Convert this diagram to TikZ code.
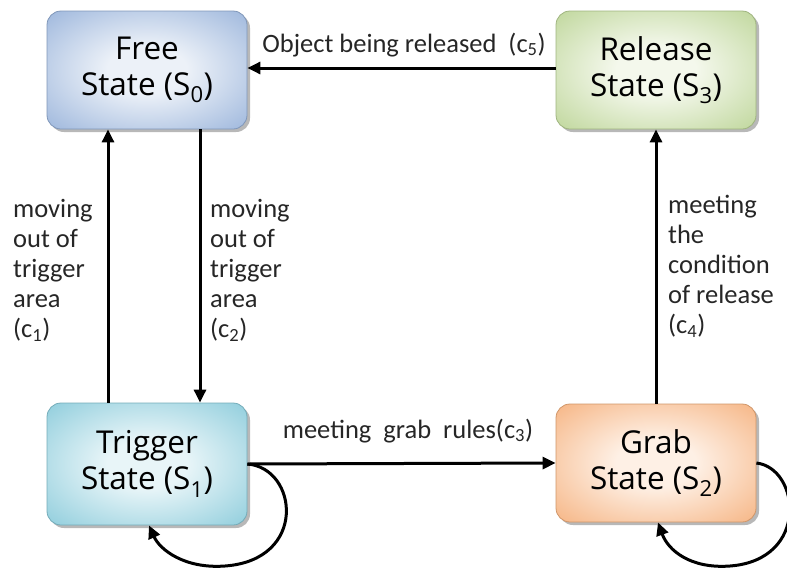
\documentclass[tikz,border=0pt]{standalone}
\usepackage{fontspec}
\setmainfont{Carlito}
\newfontfamily\boxfont{Open Sans}
\usetikzlibrary{arrows.meta,shadows}
\definecolor{freeOut}{HTML}{97B2DA}
\definecolor{freeIn}{HTML}{ECF1F8}
\definecolor{relOut}{HTML}{BBD495}
\definecolor{relIn}{HTML}{F4F8EC}
\definecolor{trigOut}{HTML}{88CADA}
\definecolor{trigIn}{HTML}{E8F5F8}
\definecolor{grabOut}{HTML}{F5B07C}
\definecolor{grabIn}{HTML}{FEF0E5}
\pgfdeclareradialshading{freeshade}{\pgfpoint{0bp}{0bp}}{color(0bp)=(freeIn); color(10bp)=(freeIn); color(38bp)=(freeOut); color(50bp)=(freeOut)}
\pgfdeclareradialshading{relshade}{\pgfpoint{0bp}{0bp}}{color(0bp)=(relIn); color(10bp)=(relIn); color(38bp)=(relOut); color(50bp)=(relOut)}
\pgfdeclareradialshading{trigshade}{\pgfpoint{0bp}{0bp}}{color(0bp)=(trigIn); color(10bp)=(trigIn); color(38bp)=(trigOut); color(50bp)=(trigOut)}
\pgfdeclareradialshading{grabshade}{\pgfpoint{0bp}{0bp}}{color(0bp)=(grabIn); color(10bp)=(grabIn); color(38bp)=(grabOut); color(50bp)=(grabOut)}
\tikzset{
  statebox/.style n args={2}{rounded corners=14pt, minimum width=200pt, minimum height=118pt,
    draw=#1!85!black, line width=0.8pt, shade, shading=#2,
    drop shadow={shadow xshift=3pt, shadow yshift=-3pt, fill=gray!70, opacity=0.8},
    align=center, font=\boxfont\fontsize{31.5}{36}\selectfont},
  arr/.style={line width=3pt, -{Triangle[length=13pt,width=12pt]}},
  lbl/.style={font=\fontsize{26.5}{30}\selectfont, inner sep=0pt, text=black!85},
}
\begin{document}
\begin{tikzpicture}[x=1pt,y=-1pt]
\useasboundingbox (0,0) rectangle (787,568);
\node[statebox={freeOut}{freeshade}] (free) at (147,70) {Free\\State (S\textsubscript{0})};
\node[statebox={relOut}{relshade}] (rel) at (656,70) {Release\\State (S\textsubscript{3})};
\node[statebox={trigOut}{trigshade}, minimum height=122pt] (trig) at (147,464) {Trigger\\State (S\textsubscript{1})};
\node[statebox={grabOut}{grabshade}] (grab) at (656,463) {Grab\\State (S\textsubscript{2})};

\draw[arr] ([yshift=2pt]rel.west) -- ([yshift=2pt]free.east);
\draw[arr] ([xshift=-39pt]trig.north) -- ([xshift=-39pt]free.south);
\draw[arr] ([xshift=53pt]free.south) -- ([xshift=53pt]trig.north);
\draw[arr] (grab.north) -- (rel.south);
\draw[arr] (trig.east) -- (grab.west);

\draw[arr] (trig.east) .. controls (298,468) and (308,560) .. (225,566)
   .. controls (185,569) and (160,550) .. ([xshift=2pt]trig.south);
\draw[arr] (grab.east) .. controls (800,468) and (810,560) .. (730,566)
   .. controls (690,569) and (668,550) .. ([xshift=2pt]grab.south);

\node[lbl, anchor=base] (l5) at (404,52) {Object being released\ \ (c\textsubscript{5})};
\node[lbl, anchor=base] (l3) at (408,438) {meeting\ \ grab\ \ rules(c\textsubscript{3})};
\node[lbl, anchor=north west, align=left] (l1) at (13,199) {moving\\out of\\trigger\\area\\(c\textsubscript{1})};
\node[lbl, anchor=north west, align=left] (l2) at (210,199) {moving\\out of\\trigger\\area\\(c\textsubscript{2})};
\node[lbl, anchor=north west, align=left] (l4) at (668,195) {meeting\\the\\condition\\of release\\(c\textsubscript{4})};
\end{tikzpicture}
\end{document}
